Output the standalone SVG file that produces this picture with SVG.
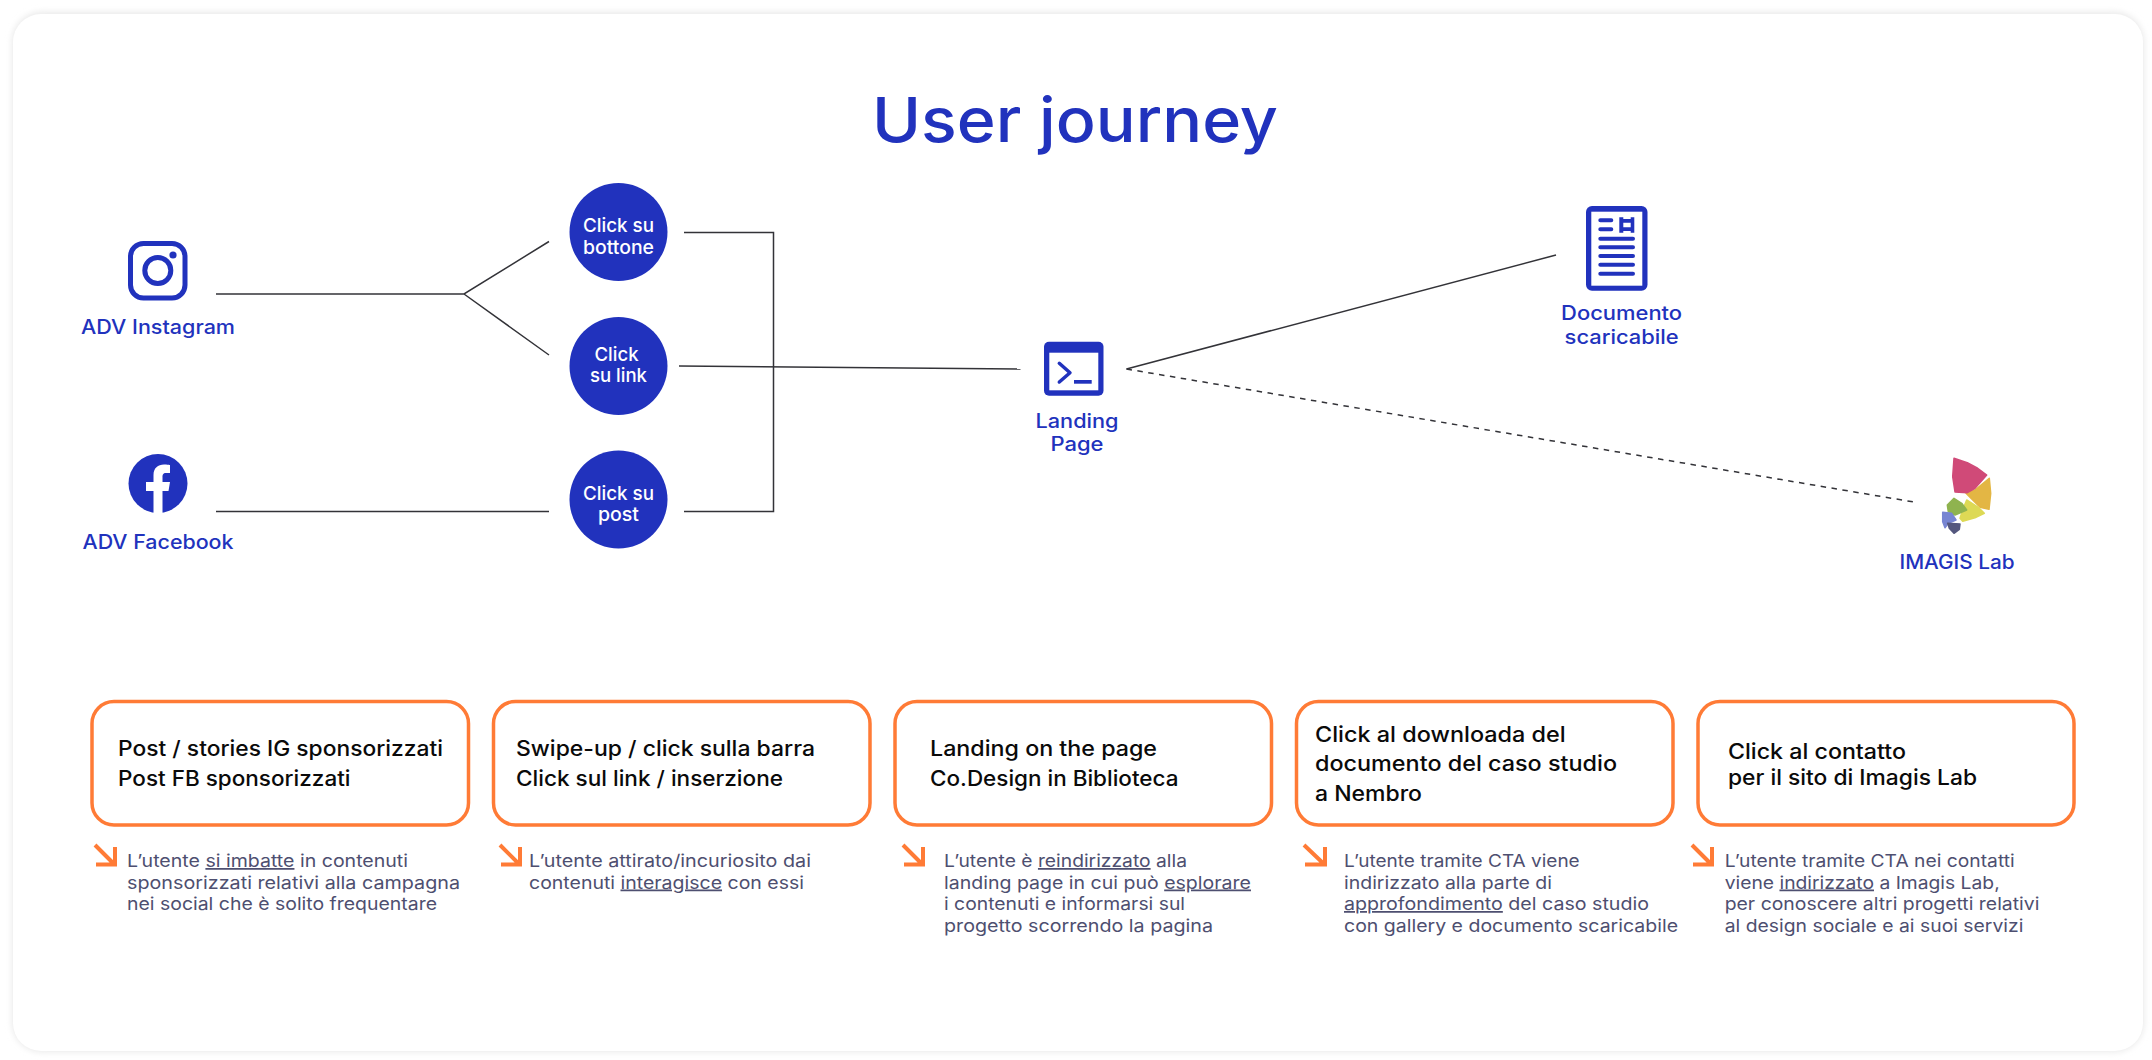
<svg xmlns="http://www.w3.org/2000/svg" width="2152" height="1060" viewBox="0 0 2152 1060">
<style>
text{font-family:"Inter","Noto Sans","Liberation Sans",sans-serif}
.lbl{fill:#2132bd;font-size:19.5px;text-anchor:middle;font-weight:450}
.cir{fill:#2132bd}
.ct{fill:#fff;font-size:19px;text-anchor:middle;font-weight:450}
.box{fill:#fff;stroke:#ff7b36;stroke-width:3.5}
.bt{fill:#0a0a0a;font-size:21px;font-weight:450}
.st{fill:#4e4f70;font-size:17.5px}
.ar{fill:none;stroke:#ff7b36;stroke-width:4}
.cn{fill:none;stroke:#333338;stroke-width:1.500}
.ic{fill:#2132bd}
.ln{fill:none;stroke:#2132bd}
</style>
<defs><filter id="soft" x="-5%" y="-5%" width="110%" height="110%"><feGaussianBlur stdDeviation="3"/></filter></defs>
<rect width="2152" height="1060" fill="#fff"/>
<rect x="12" y="12" width="2132" height="1040" rx="30" fill="#e9e9e9" filter="url(#soft)"/>
<rect x="13" y="14" width="2130" height="1037" rx="28" fill="#fff"/>

<text id="title" x="872" y="141.500" font-size="61.500" font-weight="500" fill="#2132bd" textLength="406" lengthAdjust="spacingAndGlyphs">User journey</text>

<g id="connectors">
<path class="cn" d="M216 294H464L549 241.500M464 294L549 355"/>
<path class="cn" d="M216 511.500H549"/>
<path class="cn" d="M684 232.500H773.500V511.500H684"/>
<path class="cn" d="M679 366L1020.500 369"/>
<path class="cn" d="M1126.500 369L1556 255"/>
<path class="cn" d="M1126.500 369L1914 502" stroke-dasharray="5.500 5.500" stroke-width="2.800" stroke="#2a2a2e"/>
</g>

<g id="node-instagram">
<rect class="ln" x="130.500" y="243.500" width="54.500" height="54.500" rx="13" stroke-width="5"/>
<circle class="ln" cx="157.800" cy="270.500" r="13" stroke-width="5"/>
<circle class="ic" cx="173" cy="255" r="3.600"/>
<text class="lbl" x="158" y="334" textLength="154" lengthAdjust="spacingAndGlyphs">ADV Instagram</text>
</g>
<g id="node-facebook">
<circle class="ic" cx="158" cy="483.500" r="29.500"/>
<path fill="#fff" d="M153.500 513V491H146V482H153.500V475C153.500 468 158 464.500 164 464.500C167 464.500 170 465 170 465V473H166C163 473 162.500 475 162.500 477V482H170L168.500 491H162.500V513Z"/>
<text class="lbl" x="158" y="549" textLength="151" lengthAdjust="spacingAndGlyphs">ADV Facebook</text>
</g>

<g id="node-click-bottone">
<circle class="cir" cx="618.500" cy="232" r="49"/>
<text class="ct" x="618.500" y="232" textLength="71" lengthAdjust="spacingAndGlyphs">Click su</text>
<text class="ct" x="618.500" y="254" textLength="71" lengthAdjust="spacingAndGlyphs">bottone</text>
</g>
<g id="node-click-link">
<circle class="cir" cx="618.500" cy="366" r="49"/>
<text class="ct" x="616.500" y="361" textLength="44" lengthAdjust="spacingAndGlyphs">Click</text>
<text class="ct" x="618.500" y="382" textLength="57" lengthAdjust="spacingAndGlyphs">su link</text>
</g>
<g id="node-click-post">
<circle class="cir" cx="618.500" cy="499.500" r="49"/>
<text class="ct" x="618.500" y="500" textLength="71" lengthAdjust="spacingAndGlyphs">Click su</text>
<text class="ct" x="618.500" y="521" textLength="41" lengthAdjust="spacingAndGlyphs">post</text>
</g>

<g id="node-landing">
<rect class="ic" x="1044" y="341.700" width="59.500" height="54" rx="5"/>
<rect x="1049.300" y="352.700" width="49" height="37.600" fill="#fff"/>
<path class="ln" stroke-width="3.500" stroke-linecap="round" stroke-linejoin="round" d="M1059.300 363.300L1070 372.700L1059.300 382"/>
<rect class="ic" x="1074" y="380" width="17.700" height="3.700"/>
<text class="lbl" x="1077" y="428" textLength="83" lengthAdjust="spacingAndGlyphs">Landing</text>
<text class="lbl" x="1077" y="451" textLength="53" lengthAdjust="spacingAndGlyphs">Page</text>
</g>

<g id="node-documento">
<rect class="ic" x="1586" y="206" width="61.500" height="84.700" rx="6"/>
<rect x="1591.300" y="211.700" width="51" height="74" fill="#fff"/>
<path class="ln" stroke-width="4" stroke-linecap="round" d="M1600.300 238.700H1633M1600.300 247.300H1633M1600.300 256H1633M1600.300 264.700H1633M1600.300 273.700H1633M1600.300 220.300H1611.300M1600.300 229.300H1611.300"/>
<path class="ic" d="M1619.300 217.300H1623.300V219H1630.700V217.300H1634.300V232.700H1630.700V231H1623.300V232.700H1619.300ZM1623.300 222.700V227.300H1630.700V222.700Z" fill-rule="evenodd"/>
<text class="lbl" x="1621.600" y="320" textLength="121" lengthAdjust="spacingAndGlyphs">Documento</text>
<text class="lbl" x="1621.600" y="344" textLength="114" lengthAdjust="spacingAndGlyphs">scaricabile</text>
</g>

<g id="node-imagis">
<g stroke-width="1.500" stroke-linejoin="round">
<polygon fill="#e3b644" stroke="#e3b644" points="1989.300,478.300 1990.700,493.300 1989,509.300 1980,507.300 1966,493.300 1975,490"/>
<polygon fill="#ddd955" stroke="#ddd955" points="1966.700,500 1978.300,507.300 1984.300,513.300 1975,517.700 1962.700,521.300 1960,518.300 1963.300,508.300"/>
<polygon fill="#d04a78" stroke="#d04a78" points="1954,458.300 1967.300,462.700 1976.700,467.700 1986.700,475 1975,488.300 1967.300,492.700 1955,492 1952.700,476.700"/>
<polygon fill="#8fb34f" stroke="#8fb34f" points="1954,498.300 1961.700,503.300 1966.700,510 1955,515 1948.300,511.700 1947.300,505"/>
<polygon fill="#7785d2" stroke="#7785d2" points="1942.700,512.300 1951.700,513.300 1956,520 1948.300,523.300 1945,527.700 1942.700,521.700"/>
<polygon fill="#54577e" stroke="#54577e" points="1947.700,523.300 1960,524 1959.300,529.300 1954,533.300 1949.300,528.300"/>
</g>
<text class="lbl" x="1957" y="569" textLength="115" lengthAdjust="spacingAndGlyphs">IMAGIS Lab</text>
</g>

<g id="step-1">
<rect class="box" x="92" y="701.500" width="376.500" height="123.500" rx="22"/>
<text class="bt" x="118" y="756" textLength="325" lengthAdjust="spacingAndGlyphs">Post / stories IG sponsorizzati</text>
<text class="bt" x="118" y="785.500" textLength="232.500" lengthAdjust="spacingAndGlyphs">Post FB sponsorizzati</text>
<path class="ar" d="M95 845L115 865M96 864.500H115V847"/>
<text class="st" x="127" y="867" textLength="281" lengthAdjust="spacingAndGlyphs">L’utente <tspan text-decoration="underline">si imbatte</tspan> in contenuti</text>
<text class="st" x="127" y="888.500" textLength="333" lengthAdjust="spacingAndGlyphs">sponsorizzati relativi alla campagna</text>
<text class="st" x="127" y="910" textLength="310" lengthAdjust="spacingAndGlyphs">nei social che è solito frequentare</text>
</g>
<g id="step-2">
<rect class="box" x="493.500" y="701.500" width="376.500" height="123.500" rx="22"/>
<text class="bt" x="516" y="756" textLength="299" lengthAdjust="spacingAndGlyphs">Swipe-up / click sulla barra</text>
<text class="bt" x="516" y="785.500" textLength="267" lengthAdjust="spacingAndGlyphs">Click sul link / inserzione</text>
<path class="ar" d="M500 845L520 865M501 864.500H520V847"/>
<text class="st" x="529" y="867" textLength="282" lengthAdjust="spacingAndGlyphs">L’utente attirato/incuriosito dai</text>
<text class="st" x="529" y="888.500" textLength="275" lengthAdjust="spacingAndGlyphs">contenuti <tspan text-decoration="underline">interagisce</tspan> con essi</text>
</g>
<g id="step-3">
<rect class="box" x="895" y="701.500" width="376.500" height="123.500" rx="22"/>
<text class="bt" x="930" y="756" textLength="227" lengthAdjust="spacingAndGlyphs">Landing on the page</text>
<text class="bt" x="930" y="785.500" textLength="248.500" lengthAdjust="spacingAndGlyphs">Co.Design in Biblioteca</text>
<path class="ar" d="M903 845L923 865M904 864.500H923V847"/>
<text class="st" x="944" y="867" textLength="243" lengthAdjust="spacingAndGlyphs">L’utente è <tspan text-decoration="underline">reindirizzato</tspan> alla</text>
<text class="st" x="944" y="888.500" textLength="307" lengthAdjust="spacingAndGlyphs">landing page in cui può <tspan text-decoration="underline">esplorare</tspan></text>
<text class="st" x="944" y="910" textLength="241" lengthAdjust="spacingAndGlyphs">i contenuti e informarsi sul</text>
<text class="st" x="944" y="931.500" textLength="269" lengthAdjust="spacingAndGlyphs">progetto scorrendo la pagina</text>
</g>
<g id="step-4">
<rect class="box" x="1296.500" y="701.500" width="376.500" height="123.500" rx="22"/>
<text class="bt" x="1315" y="741.500" textLength="250.700" lengthAdjust="spacingAndGlyphs">Click al downloada del</text>
<text class="bt" x="1315" y="771" textLength="302" lengthAdjust="spacingAndGlyphs">documento del caso studio</text>
<text class="bt" x="1315" y="800.500" textLength="107" lengthAdjust="spacingAndGlyphs">a Nembro</text>
<path class="ar" d="M1304 845L1325 865M1305 864.500H1325V847"/>
<text class="st" x="1344" y="867" textLength="235.700" lengthAdjust="spacingAndGlyphs">L’utente tramite CTA viene</text>
<text class="st" x="1344" y="888.500" textLength="208" lengthAdjust="spacingAndGlyphs">indirizzato alla parte di</text>
<text class="st" x="1344" y="910" textLength="305" lengthAdjust="spacingAndGlyphs"><tspan text-decoration="underline">approfondimento</tspan> del caso studio</text>
<text class="st" x="1344" y="931.500" textLength="334" lengthAdjust="spacingAndGlyphs">con gallery e documento scaricabile</text>
</g>
<g id="step-5">
<rect class="box" x="1698" y="701.500" width="376" height="123.500" rx="22"/>
<text class="bt" x="1728" y="758.500" textLength="178" lengthAdjust="spacingAndGlyphs">Click al contatto</text>
<text class="bt" x="1728" y="785" textLength="249" lengthAdjust="spacingAndGlyphs">per il sito di Imagis Lab</text>
<path class="ar" d="M1692 845L1712 865M1693 864.500H1712V847"/>
<text class="st" x="1724.700" y="867" textLength="290" lengthAdjust="spacingAndGlyphs">L’utente tramite CTA nei contatti</text>
<text class="st" x="1724.700" y="888.500" textLength="275" lengthAdjust="spacingAndGlyphs">viene <tspan text-decoration="underline">indirizzato</tspan> a Imagis Lab,</text>
<text class="st" x="1724.700" y="910" textLength="314.700" lengthAdjust="spacingAndGlyphs">per conoscere altri progetti relativi</text>
<text class="st" x="1724.700" y="931.500" textLength="298.700" lengthAdjust="spacingAndGlyphs">al design sociale e ai suoi servizi</text>
</g>
</svg>
